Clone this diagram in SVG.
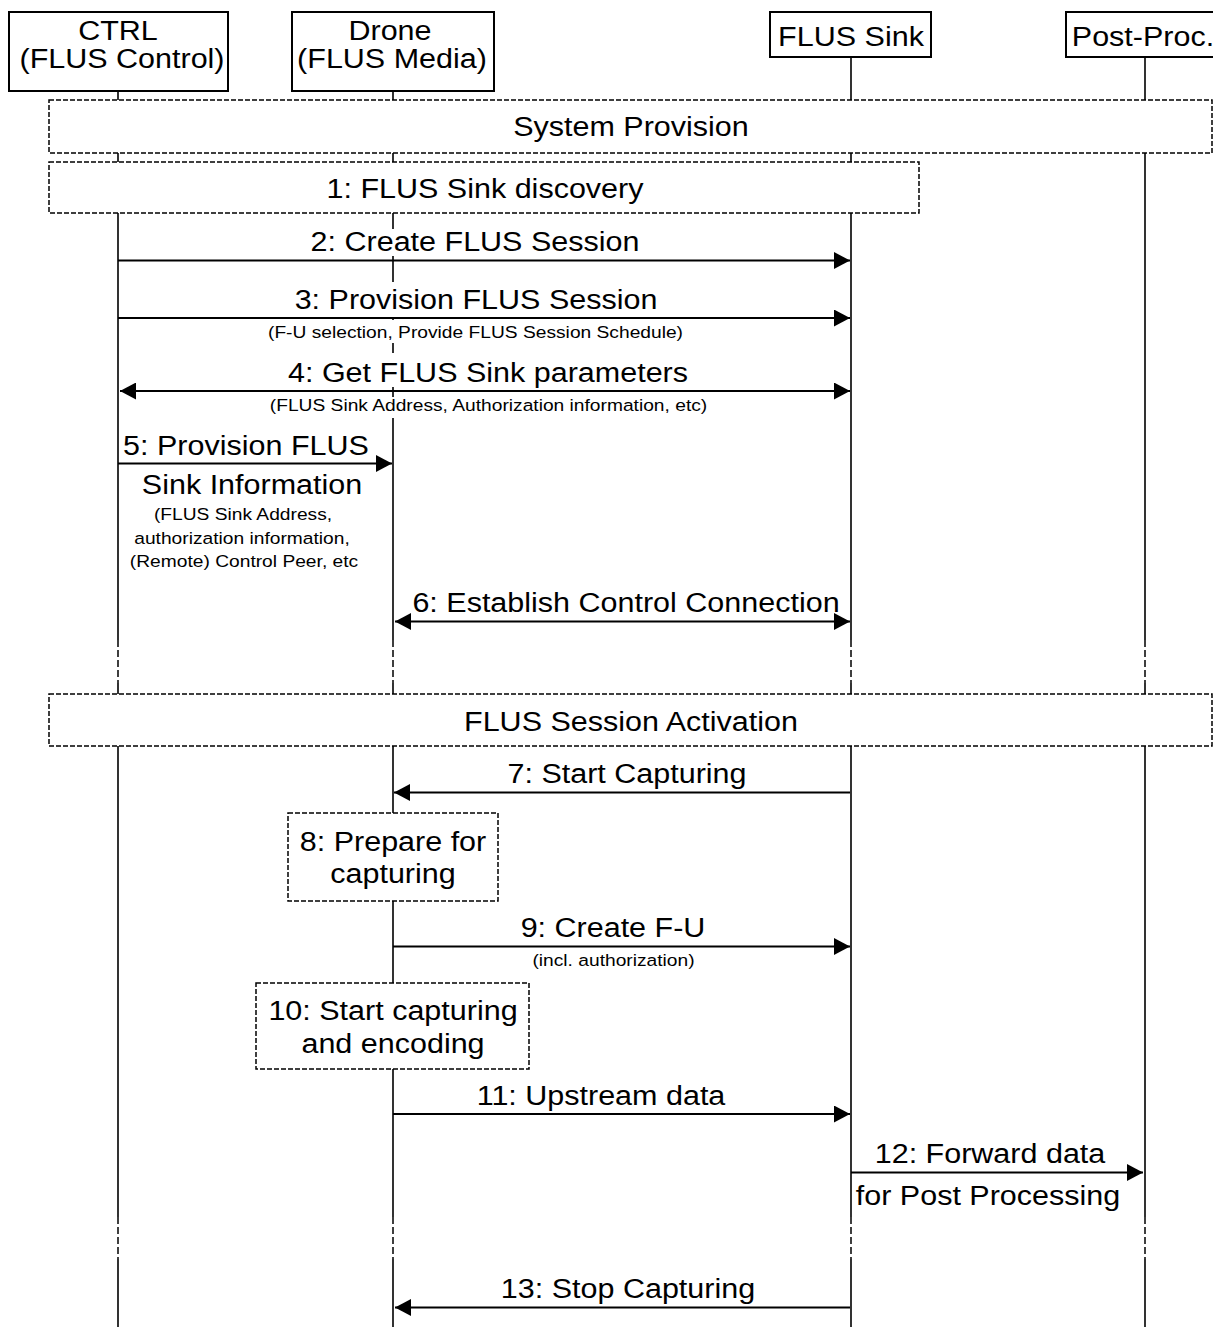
<svg xmlns="http://www.w3.org/2000/svg" width="1213" height="1327" viewBox="0 0 1213 1327">
<style>
  text { font-family: "Liberation Sans", Arial, sans-serif; fill: #000; text-anchor: middle; }
  .L { font-size: 27px; }
  .S { font-size: 17px; }
  .box { fill: #fff; stroke: #000; stroke-width: 2; }
  .frame { fill: #fff; stroke: #000; stroke-width: 1.5; stroke-dasharray: 5 2; }
  .life { stroke: #000; stroke-width: 1.6; fill: none; }
  .lifed { stroke: #000; stroke-width: 1.5; stroke-dasharray: 7 3; fill: none; }
  .msg { stroke: #000; stroke-width: 2; fill: none; }
  .one { marker-end: url(#ah); }
  .two { marker-start: url(#ah); marker-end: url(#ah); }
</style>
<defs>
  <marker id="ah" viewBox="0 0 16 17" refX="16" refY="8.5" markerWidth="16" markerHeight="17" markerUnits="userSpaceOnUse" orient="auto-start-reverse">
    <path d="M0,0 L16,8.5 L0,17 z" fill="#000"/>
  </marker>
</defs>
<rect x="0" y="0" width="1213" height="1327" fill="#fff"/>

<g id="lifelines">
  <path class="life" d="M118,91 V640 M118,683 V1217 M118,1259 V1327"/>
  <path class="lifed" d="M118,640 V683 M118,1217 V1259"/>
  <path class="life" d="M393,91 V229 M393,256 V282 M393,317 V320 M393,343 V353 M393,387 V397 M393,418 V640 M393,683 V1217 M393,1259 V1327"/>
  <path class="lifed" d="M393,640 V683 M393,1217 V1259"/>
  <path class="life" d="M851,57 V640 M851,683 V1217 M851,1259 V1327"/>
  <path class="lifed" d="M851,640 V683 M851,1217 V1259"/>
  <path class="life" d="M1145,57 V640 M1145,683 V1217 M1145,1259 V1327"/>
  <path class="lifed" d="M1145,640 V683 M1145,1217 V1259"/>
</g>

<g id="ctrl">
  <rect class="box" x="9" y="12" width="219" height="79"/>
  <text class="L" transform="matrix(1.13 0 0 1 118 40)">CTRL</text>
  <text class="L" transform="matrix(1.13 0 0 1 122 68)">(FLUS Control)</text>
</g>
<g id="drone">
  <rect class="box" x="292" y="12" width="202" height="79"/>
  <text class="L" transform="matrix(1.13 0 0 1 390 40)">Drone</text>
  <text class="L" transform="matrix(1.13 0 0 1 392 68)">(FLUS Media)</text>
</g>
<g id="sink">
  <rect class="box" x="770" y="12" width="161" height="45"/>
  <text class="L" transform="matrix(1.13 0 0 1 851 46)">FLUS Sink</text>
</g>
<g id="postproc">
  <rect class="box" x="1066" y="12" width="170" height="45"/>
  <text class="L" transform="matrix(1.13 0 0 1 1143 46)">Post-Proc.</text>
</g>

<g id="system-provision">
  <rect class="frame" x="49" y="100" width="1163" height="53"/>
  <text class="L" transform="matrix(1.13 0 0 1 631 136)">System Provision</text>
</g>
<g id="step1">
  <rect class="frame" x="49" y="162" width="870" height="51"/>
  <text class="L" transform="matrix(1.13 0 0 1 485 198)">1: FLUS Sink discovery</text>
</g>
<g id="session-activation">
  <rect class="frame" x="49" y="694" width="1163" height="52"/>
  <text class="L" transform="matrix(1.13 0 0 1 631 731)">FLUS Session Activation</text>
</g>
<g id="step8">
  <rect class="frame" x="288" y="813" width="210" height="88"/>
  <text class="L" transform="matrix(1.13 0 0 1 393 851)">8: Prepare for</text>
  <text class="L" transform="matrix(1.13 0 0 1 393 883)">capturing</text>
</g>
<g id="step10">
  <rect class="frame" x="256" y="983" width="273" height="86"/>
  <text class="L" transform="matrix(1.13 0 0 1 393 1020)">10: Start capturing</text>
  <text class="L" transform="matrix(1.13 0 0 1 393 1053)">and encoding</text>
</g>

<g id="connectors">
  <path class="msg one" d="M118,260.5 H850"/>
  <path class="msg one" d="M118,318 H850"/>
  <path class="msg two" d="M120,391 H850"/>
  <path class="msg one" d="M118,463.5 H392"/>
  <path class="msg two" d="M395,621.5 H850"/>
  <path class="msg one" d="M850,792.5 H394"/>
  <path class="msg one" d="M393,946.5 H850"/>
  <path class="msg one" d="M393,1114 H850"/>
  <path class="msg one" d="M851,1172.5 H1143"/>
  <path class="msg one" d="M850,1307.5 H395"/>
</g>

<g id="labels">
  <text class="L" transform="matrix(1.13 0 0 1 475 251)">2: Create FLUS Session</text>
  <text class="L" transform="matrix(1.13 0 0 1 476 309)">3: Provision FLUS Session</text>
  <text class="S" transform="matrix(1.13 0 0 1 475.5 338)">(F-U selection, Provide FLUS Session Schedule)</text>
  <text class="L" transform="matrix(1.13 0 0 1 488 382)">4: Get FLUS Sink parameters</text>
  <text class="S" transform="matrix(1.13 0 0 1 488.5 411)">(FLUS Sink Address, Authorization information, etc)</text>
  <text class="L" transform="matrix(1.13 0 0 1 246 455)">5: Provision FLUS</text>
  <text class="L" transform="matrix(1.13 0 0 1 252 494)">Sink Information</text>
  <text class="S" transform="matrix(1.13 0 0 1 243 520)">(FLUS Sink Address,</text>
  <text class="S" transform="matrix(1.13 0 0 1 242 544)">authorization information,</text>
  <text class="S" transform="matrix(1.13 0 0 1 244 567)">(Remote) Control Peer, etc</text>
  <text class="L" transform="matrix(1.13 0 0 1 626 612)">6: Establish Control Connection</text>
  <text class="L" transform="matrix(1.13 0 0 1 627 783)">7: Start Capturing</text>
  <text class="L" transform="matrix(1.13 0 0 1 613 937)">9: Create F-U</text>
  <text class="S" transform="matrix(1.13 0 0 1 613.5 966)">(incl. authorization)</text>
  <text class="L" transform="matrix(1.13 0 0 1 601 1105)">11: Upstream data</text>
  <text class="L" transform="matrix(1.13 0 0 1 990 1163)">12: Forward data</text>
  <text class="L" transform="matrix(1.13 0 0 1 988 1205)">for Post Processing</text>
  <text class="L" transform="matrix(1.13 0 0 1 628 1298)">13: Stop Capturing</text>
</g>
</svg>
